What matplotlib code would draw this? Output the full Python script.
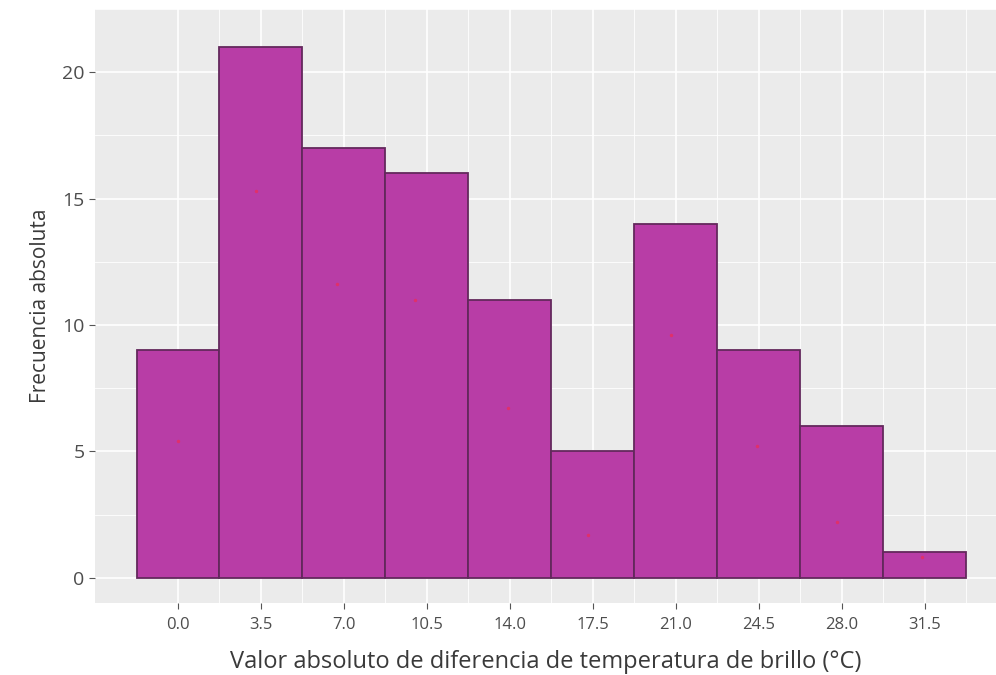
#!/usr/bin/env python3
# -*- encoding: utf-8 -*-

from matplotlib import pyplot as plt
import numpy as np

# histogram bins (centres) and counts
bin_centers = [0.0, 3.5, 7.0, 10.5, 14.0, 17.5, 21.0, 24.5, 28.0, 31.5]
counts = [9, 21, 17, 16, 11, 5, 14, 9, 6, 1]
bin_width = 3.5

# faint red points seen inside the bars
dot_x = [0.0, 3.3, 6.7, 10.0, 13.9, 17.3, 20.8, 24.4, 27.8, 31.4]
dot_y = [5.4, 15.3, 11.6, 11.0, 6.7, 1.7, 9.6, 5.2, 2.2, 0.8]

x_ticks = [0.0, 3.5, 7.0, 10.5, 14.0, 17.5, 21.0, 24.5, 28.0, 31.5]
y_ticks = [0, 5, 10, 15, 20]

plt.rcParams["font.family"] = ["Open Sans", "DejaVu Sans"]

fig = plt.figure(figsize=(9.96, 6.75), dpi=100)
ax = fig.add_axes([0.0954, 0.1067, 0.9046, 0.8800])
ax.set_facecolor("#EBEBEB")

ax.bar(
    bin_centers,
    counts,
    width=bin_width,
    color="#B83DA6",
    edgecolor="#63285C",
    linewidth=1.3,
    zorder=3,
)
ax.scatter(dot_x, dot_y, s=6, color="#E0306A", zorder=4, linewidths=0)

ax.set_xlim(-3.5, 34.5)
ax.set_ylim(-1.0, 22.0)
ax.set_xticks(x_ticks)
ax.set_xticklabels([f"{v:.1f}" for v in x_ticks])
ax.set_yticks(y_ticks)
ax.set_xticks(np.array(x_ticks) + bin_width / 2, minor=True)
ax.set_yticks(np.array(y_ticks) + 2.5, minor=True)

ax.grid(which="major", color="white", linewidth=1.2, zorder=0)
ax.grid(which="minor", color="white", linewidth=0.6, zorder=0)
ax.set_axisbelow(True)
for spine in ax.spines.values():
    spine.set_visible(False)

ax.tick_params(axis="both", which="major", length=4, color="#555555")
ax.tick_params(axis="both", which="minor", length=0)
ax.tick_params(axis="x", labelsize=12, labelcolor="#4D4D4D", pad=6)
ax.tick_params(axis="y", labelsize=14, labelcolor="#4D4D4D")

ax.set_xlabel(
    "Valor absoluto de diferencia de temperatura de brillo (°C)",
    fontsize=17,
    color="#3A3A3A",
    labelpad=12,
)
ax.set_ylabel("Frecuencia absoluta", fontsize=15, color="#3A3A3A", labelpad=8)

fig.savefig("out.png", dpi=100)
